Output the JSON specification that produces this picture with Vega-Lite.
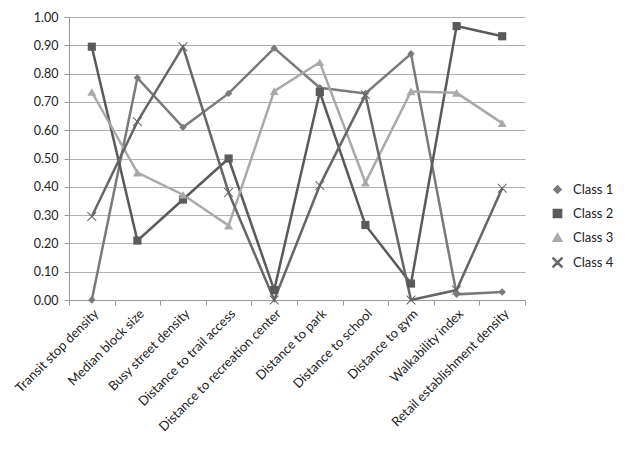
{
  "$schema": "https://vega.github.io/schema/vega-lite/v6.json",
  "autosize": "none",
  "width": 456,
  "height": 283,
  "padding": {"left": 69, "top": 17, "right": 104, "bottom": 156},
  "background": "white",
  "config": {
    "view": {"stroke": null},
    "font": "Lato"
  },
  "data": {
    "values": [
      {"f": "Transit stop density", "c": "Class 1", "v": 0.0},
      {"f": "Median block size", "c": "Class 1", "v": 0.785},
      {"f": "Busy street density", "c": "Class 1", "v": 0.61},
      {"f": "Distance to trail access", "c": "Class 1", "v": 0.73},
      {"f": "Distance to recreation center", "c": "Class 1", "v": 0.89},
      {"f": "Distance to park", "c": "Class 1", "v": 0.75},
      {"f": "Distance to school", "c": "Class 1", "v": 0.73},
      {"f": "Distance to gym", "c": "Class 1", "v": 0.87},
      {"f": "Walkability index", "c": "Class 1", "v": 0.02},
      {"f": "Retail establishment density", "c": "Class 1", "v": 0.028},
      {"f": "Transit stop density", "c": "Class 2", "v": 0.895},
      {"f": "Median block size", "c": "Class 2", "v": 0.21},
      {"f": "Busy street density", "c": "Class 2", "v": 0.355},
      {"f": "Distance to trail access", "c": "Class 2", "v": 0.5},
      {"f": "Distance to recreation center", "c": "Class 2", "v": 0.035},
      {"f": "Distance to park", "c": "Class 2", "v": 0.735},
      {"f": "Distance to school", "c": "Class 2", "v": 0.265},
      {"f": "Distance to gym", "c": "Class 2", "v": 0.058},
      {"f": "Walkability index", "c": "Class 2", "v": 0.968},
      {"f": "Retail establishment density", "c": "Class 2", "v": 0.932},
      {"f": "Transit stop density", "c": "Class 3", "v": 0.735},
      {"f": "Median block size", "c": "Class 3", "v": 0.45},
      {"f": "Busy street density", "c": "Class 3", "v": 0.372},
      {"f": "Distance to trail access", "c": "Class 3", "v": 0.263},
      {"f": "Distance to recreation center", "c": "Class 3", "v": 0.738},
      {"f": "Distance to park", "c": "Class 3", "v": 0.84},
      {"f": "Distance to school", "c": "Class 3", "v": 0.415},
      {"f": "Distance to gym", "c": "Class 3", "v": 0.737},
      {"f": "Walkability index", "c": "Class 3", "v": 0.732},
      {"f": "Retail establishment density", "c": "Class 3", "v": 0.625},
      {"f": "Transit stop density", "c": "Class 4", "v": 0.295},
      {"f": "Median block size", "c": "Class 4", "v": 0.63},
      {"f": "Busy street density", "c": "Class 4", "v": 0.895},
      {"f": "Distance to trail access", "c": "Class 4", "v": 0.38},
      {"f": "Distance to recreation center", "c": "Class 4", "v": 0.0},
      {"f": "Distance to park", "c": "Class 4", "v": 0.405},
      {"f": "Distance to school", "c": "Class 4", "v": 0.725},
      {"f": "Distance to gym", "c": "Class 4", "v": 0.0},
      {"f": "Walkability index", "c": "Class 4", "v": 0.035},
      {"f": "Retail establishment density", "c": "Class 4", "v": 0.395}
    ]
  },
  "encoding": {
    "x": {
      "field": "f", "type": "nominal", "sort": null,
      "scale": {"paddingInner": 0, "paddingOuter": 0},
      "axis": {
        "title": null, "labelAngle": -45, "labelFontSize": 13, "labelColor": "#222",
        "tickBand": "extent", "tickSize": 5, "tickColor": "#999", "domainColor": "#999",
        "labelPadding": 2, "labelLimit": 300, "grid": false
      }
    },
    "y": {
      "field": "v", "type": "quantitative",
      "scale": {"domain": [0, 1], "nice": false, "zero": true},
      "axis": {
        "title": null, "format": ".2f", "values": [0, 0.1, 0.2, 0.3, 0.4, 0.5, 0.6, 0.7, 0.8, 0.9, 1],
        "labelOverlap": false,
        "labelFontSize": 12.5, "labelColor": "#222", "gridColor": "#b0b0b0",
        "domainColor": "#999", "tickColor": "#999", "tickSize": 5, "labelPadding": 6
      }
    },
    "color": {
      "field": "c", "type": "nominal",
      "scale": {"domain": ["Class 1", "Class 2", "Class 3", "Class 4"], "range": ["#7a7a7a", "#5a5a5a", "#a9a9a9", "#666666"]},
      "legend": {
        "title": null, "orient": "none", "legendX": 482, "legendY": 166,
        "labelFontSize": 13, "labelColor": "#222", "rowPadding": 9, "symbolSize": 80, "labelOffset": 9
      }
    }
  },
  "layer": [
    {
      "mark": {"type": "line", "strokeWidth": 2.5}
    },
    {
      "mark": {"type": "point", "filled": true, "opacity": 1},
      "encoding": {
        "shape": {
          "field": "c", "type": "nominal",
          "scale": {"domain": ["Class 1", "Class 2", "Class 3", "Class 4"], "range": ["diamond", "square", "triangle-up", "M-1,-0.85L-0.85,-1L0,-0.15L0.85,-1L1,-0.85L0.15,0L1,0.85L0.85,1L0,0.15L-0.85,1L-1,0.85L-0.15,0Z"]},
          "legend": null
        },
        "size": {
          "field": "c", "type": "nominal",
          "scale": {"domain": ["Class 1", "Class 2", "Class 3", "Class 4"], "range": [55, 90, 75, 70]},
          "legend": null
        }
      }
    }
  ]
}
